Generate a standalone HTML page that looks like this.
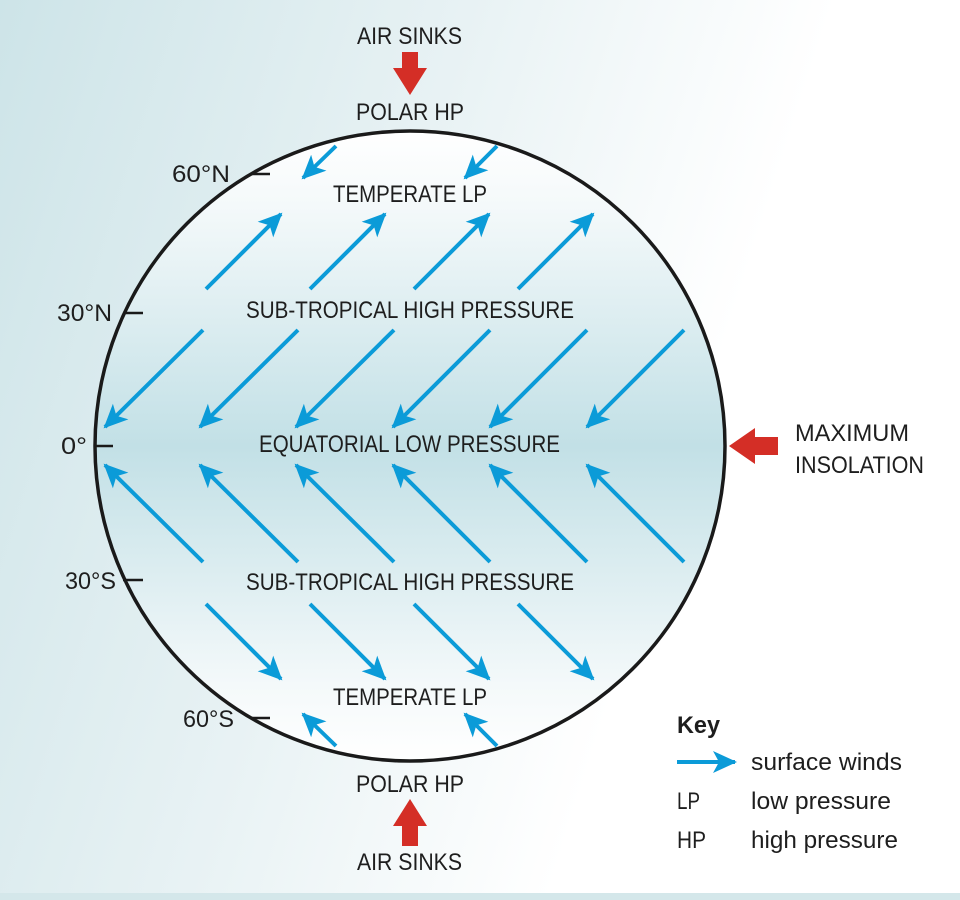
<!DOCTYPE html>
<html><head><meta charset="utf-8"><style>html,body{margin:0;padding:0;width:960px;height:900px;overflow:hidden;}svg{display:block}</style></head>
<body>
<svg width="960" height="900" viewBox="0 0 960 900" xmlns="http://www.w3.org/2000/svg" font-family="Liberation Sans, sans-serif" font-size="24" fill="#1e1e1e">
<defs>
<linearGradient id="bg" x1="0" y1="0" x2="1" y2="0.3">
<stop offset="0" stop-color="#cde4e8"/><stop offset="0.45" stop-color="#e8f2f4"/><stop offset="0.8" stop-color="#ffffff"/></linearGradient>
<linearGradient id="cg" x1="0" y1="0" x2="0" y2="1">
<stop offset="0" stop-color="#ffffff"/><stop offset="0.12" stop-color="#f4f9fa"/><stop offset="0.5" stop-color="#c2e0e6"/><stop offset="0.88" stop-color="#f4f9fa"/><stop offset="1" stop-color="#ffffff"/></linearGradient>
<marker id="ah" viewBox="0 0 24 24" refX="22" refY="12" markerWidth="24" markerHeight="24" markerUnits="userSpaceOnUse" orient="auto"><path d="M0,1 L24,12 L0,23 L6,12 Z" fill="#0b9bd8"/></marker>
</defs>
<rect width="960" height="900" fill="url(#bg)"/>
<rect y="893" width="960" height="7" fill="#d4e7ea"/>
<circle cx="410" cy="446" r="315" fill="url(#cg)" stroke="#1a1a1a" stroke-width="3.5"/>
<g stroke="#0b9bd8" stroke-width="4" marker-end="url(#ah)" fill="none">
<line x1="336" y1="146" x2="303" y2="178"/><line x1="497" y1="146" x2="465" y2="178"/>
<line x1="206" y1="289" x2="281" y2="214"/><line x1="310" y1="289" x2="385" y2="214"/><line x1="414" y1="289" x2="489" y2="214"/><line x1="518" y1="289" x2="593" y2="214"/>
<line x1="203" y1="330" x2="105" y2="427"/><line x1="298" y1="330" x2="200" y2="427"/><line x1="394" y1="330" x2="296" y2="427"/><line x1="490" y1="330" x2="393" y2="427"/><line x1="587" y1="330" x2="490" y2="427"/><line x1="684" y1="330" x2="587" y2="427"/>
<line x1="203" y1="562" x2="105" y2="465"/><line x1="298" y1="562" x2="200" y2="465"/><line x1="394" y1="562" x2="296" y2="465"/><line x1="490" y1="562" x2="393" y2="465"/><line x1="587" y1="562" x2="490" y2="465"/><line x1="684" y1="562" x2="587" y2="465"/>
<line x1="206" y1="604" x2="281" y2="679"/><line x1="310" y1="604" x2="385" y2="679"/><line x1="414" y1="604" x2="489" y2="679"/><line x1="518" y1="604" x2="593" y2="679"/>
<line x1="336" y1="746" x2="303" y2="714"/><line x1="497" y1="746" x2="465" y2="714"/>
<line x1="677" y1="762" x2="735" y2="762"/>
</g>
<g stroke="#1a1a1a" stroke-width="2.5">
<line x1="250" y1="174" x2="270" y2="174"/><line x1="123" y1="313" x2="143" y2="313"/><line x1="95" y1="446" x2="113" y2="446"/><line x1="123" y1="580" x2="143" y2="580"/><line x1="250" y1="718" x2="270" y2="718"/>
</g>
<g fill="#d42e26">
<path d="M402,52 H418 V68 H427 L410,95 L393,68 H402 Z"/>
<path d="M402,846 H418 V826 H427 L410,799 L393,826 H402 Z"/>
<path d="M778,437 V455 H755 V464 L729,446 L755,428 V437 Z"/>
</g>
<g text-anchor="start">
<text x="357" y="44" textLength="105" lengthAdjust="spacingAndGlyphs">AIR SINKS</text>
<text x="356" y="120" textLength="108" lengthAdjust="spacingAndGlyphs">POLAR HP</text>
<text x="333" y="202" textLength="154" lengthAdjust="spacingAndGlyphs">TEMPERATE LP</text>
<text x="246" y="318" textLength="328" lengthAdjust="spacingAndGlyphs">SUB-TROPICAL HIGH PRESSURE</text>
<text x="259" y="452" textLength="301" lengthAdjust="spacingAndGlyphs">EQUATORIAL LOW PRESSURE</text>
<text x="246" y="590" textLength="328" lengthAdjust="spacingAndGlyphs">SUB-TROPICAL HIGH PRESSURE</text>
<text x="333" y="705" textLength="154" lengthAdjust="spacingAndGlyphs">TEMPERATE LP</text>
<text x="356" y="792" textLength="108" lengthAdjust="spacingAndGlyphs">POLAR HP</text>
<text x="357" y="870" textLength="105" lengthAdjust="spacingAndGlyphs">AIR SINKS</text>
<text x="172" y="182" textLength="58" lengthAdjust="spacingAndGlyphs">60°N</text>
<text x="57" y="321" textLength="55" lengthAdjust="spacingAndGlyphs">30°N</text>
<text x="61" y="454" textLength="26" lengthAdjust="spacingAndGlyphs">0°</text>
<text x="65" y="589" textLength="51" lengthAdjust="spacingAndGlyphs">30°S</text>
<text x="183" y="727" textLength="51" lengthAdjust="spacingAndGlyphs">60°S</text>
<text x="795" y="441" textLength="114" lengthAdjust="spacingAndGlyphs">MAXIMUM</text>
<text x="795" y="473" textLength="129" lengthAdjust="spacingAndGlyphs">INSOLATION</text>
<text x="677" y="733" font-weight="bold" textLength="43" lengthAdjust="spacingAndGlyphs">Key</text>
<text x="751" y="770" textLength="151" lengthAdjust="spacingAndGlyphs">surface winds</text>
<text x="677" y="809" textLength="23" lengthAdjust="spacingAndGlyphs">LP</text>
<text x="751" y="809" textLength="140" lengthAdjust="spacingAndGlyphs">low pressure</text>
<text x="677" y="848" textLength="29" lengthAdjust="spacingAndGlyphs">HP</text>
<text x="751" y="848" textLength="147" lengthAdjust="spacingAndGlyphs">high pressure</text>
</g>
</svg>
</body></html>
